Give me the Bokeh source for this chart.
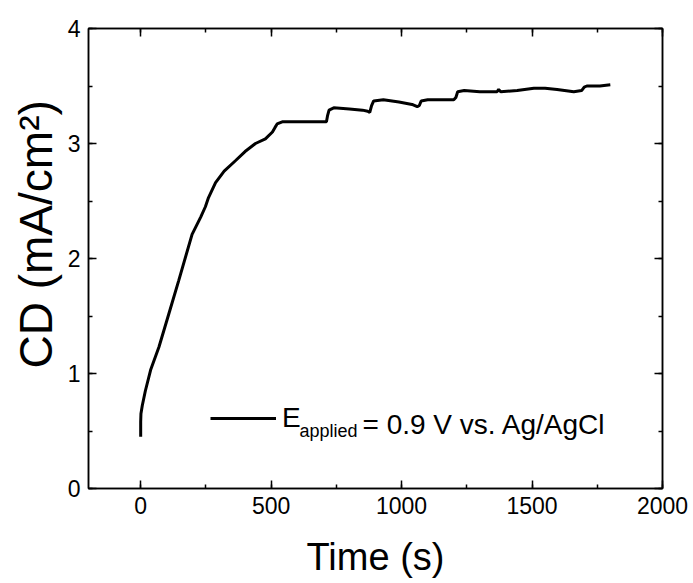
from bokeh.plotting import figure
from bokeh.models import (Range1d, SingleIntervalTicker, LinearAxis, Label, Legend,
                          LegendItem, CustomJSTickFormatter, Title)
from bokeh.embed import file_html
from bokeh.resources import INLINE

# Chronoamperometry data
time_s = [0, 0, 1, 6, 18, 38, 70, 108, 146, 197, 230, 248, 260, 287, 320, 363, 400, 440,
          478, 505, 515, 523, 545, 575, 650, 712, 716, 722, 740, 800, 850, 870, 878, 885,
          893, 930, 990, 1040, 1060, 1068, 1075, 1100, 1150, 1200, 1208, 1215, 1240, 1300,
          1366, 1372, 1380, 1443, 1507, 1550, 1596, 1660, 1690, 1700, 1710, 1760, 1800]
cd_ma_cm2 = [0.45, 0.58, 0.65, 0.72, 0.85, 1.03, 1.23, 1.52, 1.81, 2.21, 2.36, 2.45, 2.53,
             2.66, 2.76, 2.85, 2.93, 3.00, 3.04, 3.10, 3.14, 3.17, 3.19, 3.19, 3.19, 3.19,
             3.24, 3.29, 3.31, 3.30, 3.29, 3.28, 3.27, 3.33, 3.37, 3.38, 3.36, 3.34, 3.32,
             3.33, 3.37, 3.38, 3.38, 3.38, 3.40, 3.45, 3.46, 3.45, 3.45, 3.47, 3.45, 3.46,
             3.48, 3.48, 3.47, 3.45, 3.46, 3.49, 3.50, 3.50, 3.51]

x_ticks_interval = 500
y_ticks_interval = 1
FONT = "Liberation Sans"

p = figure(width=693, height=583, output_backend="svg", toolbar_location=None,
           x_range=Range1d(-200, 2000), y_range=Range1d(0, 4),
           min_border_left=88, min_border_right=31, min_border_top=28, min_border_bottom=95)
p.grid.visible = False
p.outline_line_color = "black"
p.outline_line_width = 1.5
p.background_fill_color = "white"
p.border_fill_color = "white"

r = p.line(time_s, cd_ma_cm2, line_color="black", line_width=3)


def style_axis(ax, show_labels=True):
    ax.axis_line_color = "black"
    ax.axis_line_width = 1.5
    ax.major_tick_in = 8
    ax.major_tick_out = 0
    ax.minor_tick_in = 4
    ax.minor_tick_out = 0
    ax.major_tick_line_width = 1.5
    ax.minor_tick_line_width = 1.5
    ax.major_tick_line_color = "black"
    ax.minor_tick_line_color = "black"
    ax.major_label_text_font = FONT
    ax.major_label_text_color = "black"
    ax.major_label_text_font_size = "23px"
    if not show_labels:
        ax.formatter = CustomJSTickFormatter(code="return '';")
        ax.major_label_standoff = 0


xax = p.xaxis[0]
xax.ticker = SingleIntervalTicker(interval=x_ticks_interval, num_minor_ticks=2)
style_axis(xax)
xax.major_label_standoff = 8
xax.axis_label = "Time (s)"
xax.axis_label_text_font = FONT
xax.axis_label_text_font_size = "38px"
xax.axis_label_text_font_style = "normal"
xax.axis_label_text_color = "black"
xax.axis_label_standoff = 19

yax = p.yaxis[0]
yax.ticker = SingleIntervalTicker(interval=y_ticks_interval, num_minor_ticks=2)
style_axis(yax)
yax.major_label_standoff = 8

top = LinearAxis(ticker=SingleIntervalTicker(interval=x_ticks_interval, num_minor_ticks=2))
style_axis(top, False)
p.add_layout(top, "above")
right = LinearAxis(ticker=SingleIntervalTicker(interval=y_ticks_interval, num_minor_ticks=2))
style_axis(right, False)
p.add_layout(right, "right")

# y axis title, placed higher than the frame centre like in the reference
p.add_layout(Title(text="CD (mA/cm²)", align="left", offset=120, standoff=5,
                   text_font=FONT, text_font_size="46px", text_font_style="normal",
                   text_color="black"), "left")

legend = Legend(items=[LegendItem(label="E", renderers=[r])], location=(122, 54),
                glyph_width=66, glyph_height=20, label_standoff=6, padding=0, margin=0,
                label_text_font=FONT, label_text_font_size="28px", label_text_color="black",
                background_fill_alpha=0, border_line_alpha=0)
p.add_layout(legend)

p.add_layout(Label(x=211, y=58, x_units="screen", y_units="screen", text="applied",
                   text_baseline="alphabetic",
                   text_font=FONT, text_font_size="18px", text_color="black"))
p.add_layout(Label(x=274, y=64, x_units="screen", y_units="screen",
                   text="= 0.9 V vs. Ag/AgCl", text_baseline="alphabetic",
                   text_font=FONT, text_font_size="28px", text_color="black"))

open("out.html", "w").write(file_html(p, INLINE))
